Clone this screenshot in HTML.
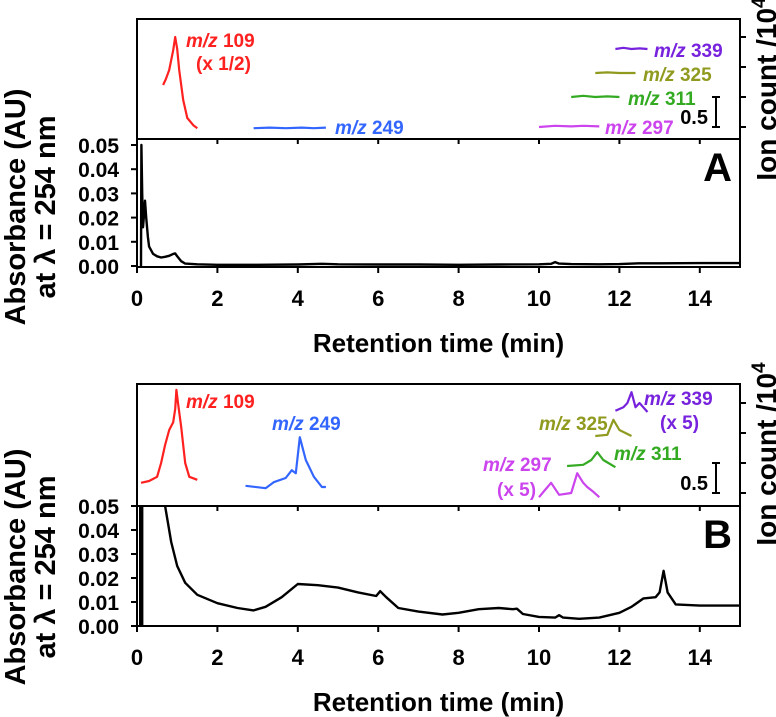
<!DOCTYPE html>
<html><head><meta charset="utf-8"><style>
html,body{margin:0;padding:0;background:#fff}
svg{display:block;font-family:"Liberation Sans",sans-serif;font-weight:bold}
</style></head><body>
<svg id="c" width="776" height="717" viewBox="0 0 776 717"></svg>
<script>
const xTicks=[0,2,4,6,8,10,12,14];
const yTicks=[0,0.01,0.02,0.03,0.04,0.05];
const yTickLabels=["0.00","0.01","0.02","0.03","0.04","0.05"];
// Panel A UV
const uvA_t=[0.08,0.1,0.11,0.13,0.15,0.18,0.2,0.23,0.27,0.3,0.4,0.5,0.6,0.7,0.8,0.9,0.95,1.0,1.1,1.2,1.5,2,3,4,4.6,5,6,7,8,9,10,10.3,10.4,10.5,10.8,11.5,12,12.5,13,14,15];
const uvA_v=[0,0,0.05,0.03,0.016,0.022,0.027,0.02,0.012,0.008,0.005,0.004,0.0035,0.0038,0.0042,0.005,0.0052,0.004,0.002,0.001,0.0007,0.0005,0.0005,0.0006,0.0009,0.0007,0.0006,0.0006,0.0005,0.0006,0.0007,0.0009,0.0016,0.001,0.0008,0.0007,0.0008,0.0011,0.0011,0.0012,0.0012];
// Panel B UV
const uvB_t=[0.7,0.85,1.0,1.2,1.5,2,2.5,2.9,3.2,3.6,4.0,4.5,5.0,5.5,5.95,6.05,6.2,6.5,7,7.6,8.0,8.5,9.0,9.35,9.45,9.6,10.0,10.4,10.5,10.6,11,11.5,12.0,12.3,12.6,12.9,13.0,13.1,13.2,13.4,14,15];
const uvB_v=[0.05,0.035,0.025,0.018,0.013,0.0095,0.0075,0.0065,0.008,0.012,0.0175,0.017,0.016,0.014,0.0125,0.0145,0.012,0.0075,0.006,0.0048,0.0055,0.007,0.0075,0.007,0.0072,0.005,0.0038,0.0035,0.0045,0.0035,0.003,0.0035,0.0055,0.008,0.0115,0.012,0.014,0.023,0.014,0.009,0.0085,0.0085];
// Panel A ion traces (x10^4)
const a109_t=[0.65,0.72,0.8,0.9,0.95,1.0,1.05,1.15,1.25,1.4,1.5];
const a109_v=[0.7,0.8,0.95,1.28,1.5,1.3,0.95,0.45,0.15,0.03,-0.02];
const a249_t=[2.9,3.3,3.7,4.1,4.4,4.7];const a249_v=[-0.02,-0.01,-0.02,-0.01,-0.02,-0.01];
const a297_t=[10,10.4,10.8,11.1,11.5];const a297_v=[0,0.02,0.01,0.02,0.01];
const a311_t=[10.8,11.1,11.4,11.7,12];const a311_v=[0.5,0.52,0.5,0.51,0.5];
const a325_t=[11.4,11.7,12,12.4];const a325_v=[0.9,0.91,0.9,0.9];
const a339_t=[11.9,12.1,12.3,12.5,12.7];const a339_v=[1.3,1.32,1.3,1.31,1.3];
// Panel B ion traces
const b109_t=[0.1,0.3,0.5,0.6,0.7,0.8,0.9,0.95,0.98,1.02,1.1,1.2,1.3,1.5];
const b109_v=[0.17,0.2,0.27,0.5,0.8,1.05,1.18,1.4,1.72,1.5,1.1,0.5,0.27,0.22];
const b249_t=[2.7,3.2,3.4,3.7,3.85,3.95,4.05,4.2,4.4,4.6,4.7];
const b249_v=[0.12,0.08,0.18,0.25,0.38,0.33,0.93,0.55,0.27,0.1,0.1];
const b297_t=[10,10.15,10.3,10.5,10.8,10.95,11.1,11.2,11.35,11.5];
const b297_v=[-0.07,0.05,0.17,-0.03,0,0.33,0.17,0.1,0.02,-0.07];
const b311_t=[10.7,11.1,11.3,11.45,11.6,11.9];const b311_v=[0.45,0.47,0.55,0.68,0.55,0.43];
const b325_t=[11.4,11.7,11.85,12.0,12.3];const b325_v=[0.95,0.97,1.22,1.05,0.95];
const b339_t=[11.9,12.1,12.2,12.3,12.4,12.5,12.7];const b339_v=[1.37,1.43,1.5,1.68,1.43,1.5,1.35];

const NS="http://www.w3.org/2000/svg";const svg=document.getElementById('c');
function mk(tag,attrs,parent){const e=document.createElementNS(NS,tag);for(const k in attrs)e.setAttribute(k,attrs[k]);(parent||svg).appendChild(e);return e;}
const X0=137,X1=740;
function xs(t){return X0+(X1-X0)*t/15;}
function path(ts,vs,fx,fy){return ts.map((t,i)=>(i?'L':'M')+fx(t).toFixed(1)+','+fy(vs[i]).toFixed(1)).join('');}
function label(x,y,num,extra,color,name){
  const t=mk('text',{x:x,y:y,fill:color,'font-size':19});
  
  
  const a=document.createElementNS(NS,'tspan');a.setAttribute('font-style','italic');a.textContent='m/z ';t.appendChild(a);
  const b=document.createElementNS(NS,'tspan');b.textContent=num;t.appendChild(b);
  if(extra){const t2=mk('text',{x:extra[0],y:extra[1],fill:color,'font-size':19});t2.textContent=extra[2];
    
    }
}
function panel(P){
  const g=mk('g',{});
  
  
  const uvY=v=>P.y0-(P.y0-P.y5)*v/0.05;
  const ionY=v=>P.ib-60*v;
  mk('rect',{x:X0,y:P.top,width:X1-X0,height:P.axis-P.top,fill:'none',stroke:'#000','stroke-width':2},g);
  mk('line',{x1:X0,y1:P.div,x2:X1,y2:P.div,stroke:'#000','stroke-width':2},g);
  xTicks.forEach(t=>{mk('line',{x1:xs(t),y1:P.axis,x2:xs(t),y2:P.axis+6,stroke:'#000','stroke-width':2},g);
    mk('line',{x1:xs(t),y1:P.div,x2:xs(t),y2:P.div+5,stroke:'#000','stroke-width':2},g);
    const tx=mk('text',{x:xs(t),y:P.axis+39,'text-anchor':'middle','font-size':22},g);tx.textContent=t;
    
    });
  yTicks.forEach((v,i)=>{mk('line',{x1:X0-6,y1:uvY(v),x2:X0,y2:uvY(v),stroke:'#000','stroke-width':2},g);
    const tx=mk('text',{x:X0-18,y:uvY(v)+8,'text-anchor':'end','font-size':21},g);tx.textContent=yTickLabels[i];
    
    });
  [0,0.5,1,1.5].forEach(v=>mk('line',{x1:X1,y1:ionY(v),x2:X1+6,y2:ionY(v),stroke:'#000','stroke-width':2},g));
  const xt=mk('text',{x:xs(7.5),y:P.axis+85,'text-anchor':'middle','font-size':26},g);xt.textContent='Retention time (min)';
  
  
  const yl=mk('text',{transform:`translate(25,${P.yc}) rotate(-90)`,'text-anchor':'middle','font-size':29},g);yl.textContent='Absorbance (AU)';
  
  
  const yl2=mk('text',{transform:`translate(55,${P.yc}) rotate(-90)`,'text-anchor':'middle','font-size':29},g);yl2.textContent='at λ = 254 nm';
  
  
  const yr=mk('text',{transform:`translate(776,${P.top+70}) rotate(-90)`,'text-anchor':'middle','font-size':28},g);
  yr.innerHTML='Ion count /10<tspan dy="-11" font-size="19">4</tspan>';
  
  
  // scale bar
  mk('path',{d:`M${X1-28},${ionY(0)}h8M${X1-24},${ionY(0)}V${ionY(0.5)}M${X1-28},${ionY(0.5)}h8`,stroke:'#000','stroke-width':2,fill:'none'},g);
  const sb=mk('text',{x:X1-32,y:ionY(0)-3,'text-anchor':'end','font-size':20},g);sb.textContent='0.5';
  
  
  const pl=mk('text',{x:X1-8,y:P.div+42,'text-anchor':'end','font-size':40},g);pl.textContent=P.id;
  
  
  P.uv.forEach(s=>{const p=mk('path',{d:path(s[0],s[1],xs,uvY),stroke:'#000','stroke-width':2.4,fill:'none','stroke-linejoin':'round'},g);
    
    });
  P.ion.forEach(s=>{const p=mk('path',{d:path(s[0],s[1],xs,ionY),stroke:s[2],'stroke-width':2.2,fill:'none','stroke-linejoin':'round'},g);
    
    });
}
panel({id:'A',top:19,div:139,axis:267,y5:145,y0:266,ib:127,yc:207,
 uv:[[uvA_t,uvA_v]],
 ion:[[a109_t,a109_v,'#ff2020',109],[a249_t,a249_v,'#3366ff',249],[a297_t,a297_v,'#cc44ee',297],[a311_t,a311_v,'#33aa22',311],[a325_t,a325_v,'#8f9a1f',325],[a339_t,a339_v,'#7722dd',339]]});
panel({id:'B',top:384,div:506,axis:626,y5:506,y0:626,ib:493,yc:567,
 uv:[[uvB_t,uvB_v],[[0.08,0.08],[0,0.05]],[[0.13,0.13],[0,0.05]]],
 ion:[[b109_t,b109_v,'#ff2020',109],[b249_t,b249_v,'#3366ff',249],[b297_t,b297_v,'#cc44ee',297],[b311_t,b311_v,'#33aa22',311],[b325_t,b325_v,'#8f9a1f',325],[b339_t,b339_v,'#7722dd',339]]});
label(186,47,'109',[196,70,'(x 1/2)'],'#ff2020','label-mz109-a');
label(335,134,'249',null,'#3366ff','label-mz249-a');
label(605,134,'297',null,'#cc44ee','label-mz297-a');
label(628,105,'311',null,'#33aa22','label-mz311-a');
label(643,81,'325',null,'#8f9a1f','label-mz325-a');
label(654,57,'339',null,'#7722dd','label-mz339-a');
label(186,408,'109',null,'#ff2020','label-mz109-b');
label(272,430,'249',null,'#3366ff','label-mz249-b');
label(644,405,'339',[660,429,'(x 5)'],'#7722dd','label-mz339-b');
label(539,430,'325',null,'#8f9a1f','label-mz325-b');
label(614,460,'311',null,'#33aa22','label-mz311-b');
label(483,471,'297',[497,496,'(x 5)'],'#cc44ee','label-mz297-b');
</script>
</body></html>
